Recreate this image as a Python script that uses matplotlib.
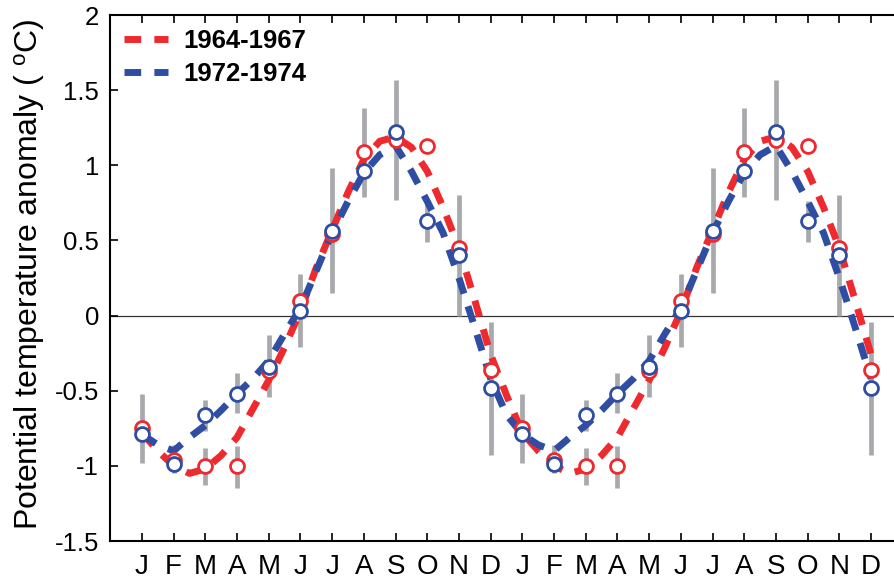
import numpy as np
import matplotlib.pyplot as plt

plt.rcParams["font.family"] = ["Liberation Sans", "DejaVu Sans"]
plt.rcParams["mathtext.default"] = "regular"

# monthly climatology, one year (Jan..Dec), shown twice
month_labels = list("JFMAMJJASOND")
red_obs = [-0.75, -0.96, -1.00, -1.00, -0.37, 0.10, 0.54, 1.09, 1.17, 1.13, 0.45, -0.36]
blue_obs = [-0.79, -0.99, -0.66, -0.52, -0.34, 0.03, 0.56, 0.96, 1.22, 0.63, 0.40, -0.48]

# smoothed fits at half-month steps, from Jan (1) to mid Dec-Jan (12.5)
red_fit = [-0.78, -0.90, -1.00, -1.05, -1.02, -0.93, -0.81, -0.62, -0.43, -0.21, 0.03, 0.32,
           0.57, 0.82, 1.04, 1.16, 1.19, 1.12, 0.96, 0.72, 0.45, 0.10, -0.26, -0.53]
blue_fit = [-0.79, -0.86, -0.90, -0.81, -0.73, -0.63, -0.52, -0.42, -0.30, -0.12, 0.05, 0.30,
            0.55, 0.76, 0.95, 1.07, 1.13, 0.96, 0.76, 0.55, 0.25, -0.08, -0.42, -0.66]

# spread bars (month, low, high)
err_month = [1, 2, 3, 3, 4, 4, 5, 6, 7, 8, 9, 10, 11, 12]
err_lo = [-0.98, -1.05, -1.13, -0.77, -1.15, -0.65, -0.54, -0.21, 0.15, 0.79, 0.77, 0.49, 0.00, -0.93]
err_hi = [-0.52, -0.86, -0.88, -0.56, -0.87, -0.38, -0.13, 0.28, 0.98, 1.38, 1.57, 0.76, 0.80, -0.04]

RED = "#ee2a2f"
BLUE = "#2f4ea3"
GRAY = "#a7a9ac"

months = np.arange(1, 25)
fit_x = np.arange(1, 24.01, 0.5)
red_curve = red_fit + red_fit[:23]
blue_curve = blue_fit + blue_fit[:23]
bar_x = np.array(err_month + [m + 12 for m in err_month])

fig = plt.figure(figsize=(8.95, 5.83), dpi=100)
ax = fig.add_axes([0.1232, 0.0720, 0.8855, 0.9022])

ax.axhline(0, color="#333333", lw=0.9, zorder=1)
ax.vlines(bar_x, err_lo + err_lo, err_hi + err_hi, color=GRAY, lw=3.4,
          capstyle="butt", zorder=2)

dash = (2.4, 1.9)
ax.plot(fit_x, red_curve, color=RED, lw=5, dashes=dash, zorder=3, label="1964-1967")
ax.plot(fit_x, blue_curve, color=BLUE, lw=5, dashes=dash, zorder=4, label="1972-1974")

ax.plot(months, red_obs * 2, "o", ms=10, mfc="white", mec=RED, mew=2, zorder=5)
ax.plot(months, blue_obs * 2, "o", ms=10, mfc="white", mec=BLUE, mew=2, zorder=6)

ax.set_xlim(0, 25)
ax.set_ylim(-1.5, 2)
ax.set_xticks(months)
ax.set_xticklabels(month_labels * 2, fontsize=20)
ax.set_yticks([-1.5, -1, -0.5, 0, 0.5, 1, 1.5, 2])
ax.set_yticklabels(["-1.5", "-1", "-0.5", "0", "0.5", "1", "1.5", "2"], fontsize=18.5)
ax.tick_params(axis="x", direction="in", top=True, length=6, width=1.2, pad=9)
ax.tick_params(axis="y", direction="in", length=6, width=1.2, pad=8)
for s in ax.spines.values():
    s.set_linewidth(1.5)

fig.text(0.033, 0.53, "Potential temperature anomaly ( $^{o}$C)", rotation=90,
         fontsize=23, ha="center", va="center")

ax.legend(loc="upper left", frameon=False, handlelength=1.7, handletextpad=0.6,
          labelspacing=0.35, borderaxespad=0.45, borderpad=0.1,
          prop={"weight": "bold", "size": 18.5})

fig.savefig("out.png", dpi=100)
